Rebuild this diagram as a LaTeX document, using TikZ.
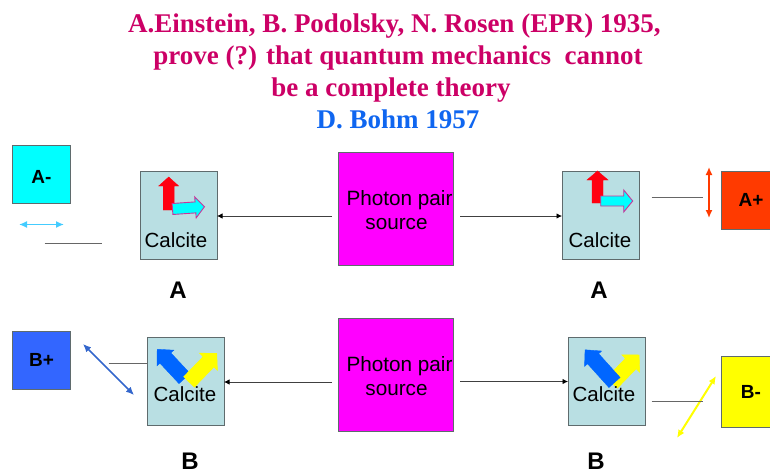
\documentclass[tikz,border=0pt]{standalone}
\usepackage{fontspec}
\setmainfont{Liberation Sans}
\newfontfamily\titlefont{Liberation Serif}
\usetikzlibrary{arrows.meta}
\definecolor{calc}{HTML}{B9DFE3}
\definecolor{edge}{HTML}{5F6B6D}
\definecolor{magbox}{HTML}{FF00FF}
\definecolor{titlecol}{HTML}{CC0066}
\definecolor{bohmcol}{HTML}{0F66F0}
\definecolor{bpbox}{HTML}{3366FF}
\definecolor{aplus}{HTML}{FF3A00}
\definecolor{pol}{HTML}{0066FF}
\definecolor{cyanline}{HTML}{44CCFF}
\definecolor{bpline}{HTML}{3366CC}
\definecolor{purecyan}{HTML}{00FFFF}
\definecolor{pureyellow}{HTML}{FFFF00}
\definecolor{purered}{HTML}{FF0010}
\definecolor{arrowedge}{HTML}{CC3399}
\tikzset{
 box/.style={draw=edge,line width=1pt,anchor=north west,inner sep=0pt,outer sep=0pt},
 calcbox/.style={box,fill=calc,minimum width=77pt,minimum height=88pt},
 srcbox/.style={box,fill=magbox,minimum width=115pt,minimum height=113pt},
 srctext/.style={font=\fontsize{20.7}{24}\selectfont,inner sep=0pt,anchor=base},
 detbox/.style={box,font=\fontsize{19}{22}\selectfont\bfseries,minimum width=58pt,minimum height=58pt},
 calclabel/.style={font=\fontsize{20.5}{22}\selectfont,inner sep=0pt},
 lab/.style={font=\fontsize{24}{26}\selectfont\bfseries,inner sep=0pt},
 ttl/.style={font=\titlefont\fontsize{27}{30}\selectfont\bfseries,inner sep=0pt,text=titlecol,anchor=base},
 conn/.style={draw=black!75,line width=.8pt,-{Latex[length=5.5pt,width=5.5pt,black]}},
 stub/.style={draw=black!60,line width=1pt},
 polar/.style={line width=1.5pt,{Latex[length=8pt,width=7pt]}-{Latex[length=8pt,width=7pt]}},
 redblock/.style={fill=purered,draw=purered,line width=.4pt},
 cyanblock/.style={fill=purecyan,draw=arrowedge,line width=.9pt},
 blueblock/.style={fill=pol,draw=pol,line width=.4pt},
 yellowblock/.style={fill=pureyellow,draw=pureyellow,line width=.4pt}
}
% x,y,angle,length,stem half-width,head half-width,head length,style
\newcommand{\blockarrow}[8]{%
 \path[#8,shift={(#1,#2)},rotate=#3] (0,-#5)--(#4-#7,-#5)--(#4-#7,-#6)--(#4,0)--(#4-#7,#6)--(#4-#7,#5)--(0,#5)--cycle;}
\begin{document}
\begin{tikzpicture}[x=1pt,y=-1pt]
\useasboundingbox (0,0) rectangle (770,474);
\node[ttl] (t1) at (394.5,32) {A.Einstein, B. Podolsky, N. Rosen (EPR) 1935,};
\node[ttl] (t2) at (398,64) {prove (?) that quantum mechanics\ \ cannot};
\node[ttl] (t3) at (391,96) {be a complete theory};
\node[ttl,text=bohmcol] (t4) at (398,128) {D. Bohm 1957};

\node[detbox,fill=purecyan] (am) at (12.5,145) {\rule{0pt}{18pt}A-};
\node[calcbox] (c1) at (140,171) {};
\node[srcbox] (s1) at (338,152) {};
\node[calcbox] (c2) at (562,171) {};
\node[detbox,fill=aplus] (ap) at (721,171) {\hspace*{2pt}A+};
\node[detbox,fill=bpbox] (bp) at (12.5,331) {B+};
\node[calcbox] (c3) at (147,337) {};
\node[srcbox] (s2) at (338,318) {};
\node[calcbox] (c4) at (568,337) {};
\node[detbox,fill=pureyellow,minimum height=71pt] (bm) at (721,356) {\hspace*{2pt}B-};

\node[srctext] (s1a) at (399.5,205) {Photon pair};
\node[srctext] (s1b) at (396.5,229) {source};
\node[srctext] (s2a) at (399.5,371) {Photon pair};
\node[srctext] (s2b) at (396.5,395) {source};

\draw[conn,shorten <=6pt] (s1.west |- 0,216) -- (c1.east |- 0,216);
\draw[conn,shorten <=7pt] (s1.east |- 0,216) -- (c2.west |- 0,216);
\draw[conn,shorten <=6pt] (s2.west |- 0,382) -- (c3.east |- 0,382);
\draw[conn,shorten <=7pt] (s2.east |- 0,381.5) -- (c4.west |- 0,381.5);

% polarisation arrows
\blockarrow{168.7}{210}{90}{33}{5.5}{10}{9}{redblock}
\blockarrow{172.5}{209}{4}{32}{5.5}{10.5}{9}{cyanblock}
\blockarrow{597.5}{203}{90}{32}{5.5}{10.5}{9}{redblock}
\blockarrow{600.7}{201}{0}{32}{5}{11}{9}{cyanblock}

\blockarrow{184.5}{378.5}{133}{40}{7.5}{11.5}{12}{blueblock}
\blockarrow{189}{382}{46}{40}{7.5}{12.5}{12}{yellowblock}
\blockarrow{612}{383}{46}{39}{7.5}{12.5}{12}{yellowblock}
\blockarrow{614.5}{382.5}{132}{44}{7.5}{11.5}{12}{blueblock}

\node[calclabel] (k1) at (176,240) {Calcite};
\node[calclabel] (k2) at (600,240) {Calcite};
\node[calclabel] (k3) at (185,394.5) {Calcite};
\node[calclabel] (k4) at (604,394.5) {Calcite};

\node[lab] (a1) at (178,290) {A};
\node[lab] (a2) at (599,290) {A};
\node[lab] (b1) at (190,461) {B};
\node[lab] (b2) at (596,461) {B};

\coordinate (p1a) at (19,224.5); \coordinate (p1b) at (64,224.5);
\draw[polar,cyanline] (p1a) -- (p1b);
\coordinate (p2a) at (709,167); \coordinate (p2b) at (709,218);
\draw[polar,aplus] (p2a) -- (p2b);
\coordinate (p3a) at (83,344); \coordinate (p3b) at (134,395);
\draw[polar,bpline] (p3a) -- (p3b);
\coordinate (p4a) at (716,376); \coordinate (p4b) at (677,438);
\draw[polar,pureyellow,line width=2pt] (p4a) -- (p4b);

\coordinate (l1a) at (44.5,243); \coordinate (l1b) at (102,243);
\draw[stub] (l1a) -- (l1b);
\coordinate (l2a) at (651.5,197); \coordinate (l2b) at (703,197);
\draw[stub] (l2a) -- (l2b);
\coordinate (l3a) at (108.5,363);
\draw[stub] (l3a) -- (c3.west |- l3a);
\coordinate (l4a) at (651.5,401); \coordinate (l4b) at (703,401);
\draw[stub] (l4a) -- (l4b);
\end{tikzpicture}
\end{document}
